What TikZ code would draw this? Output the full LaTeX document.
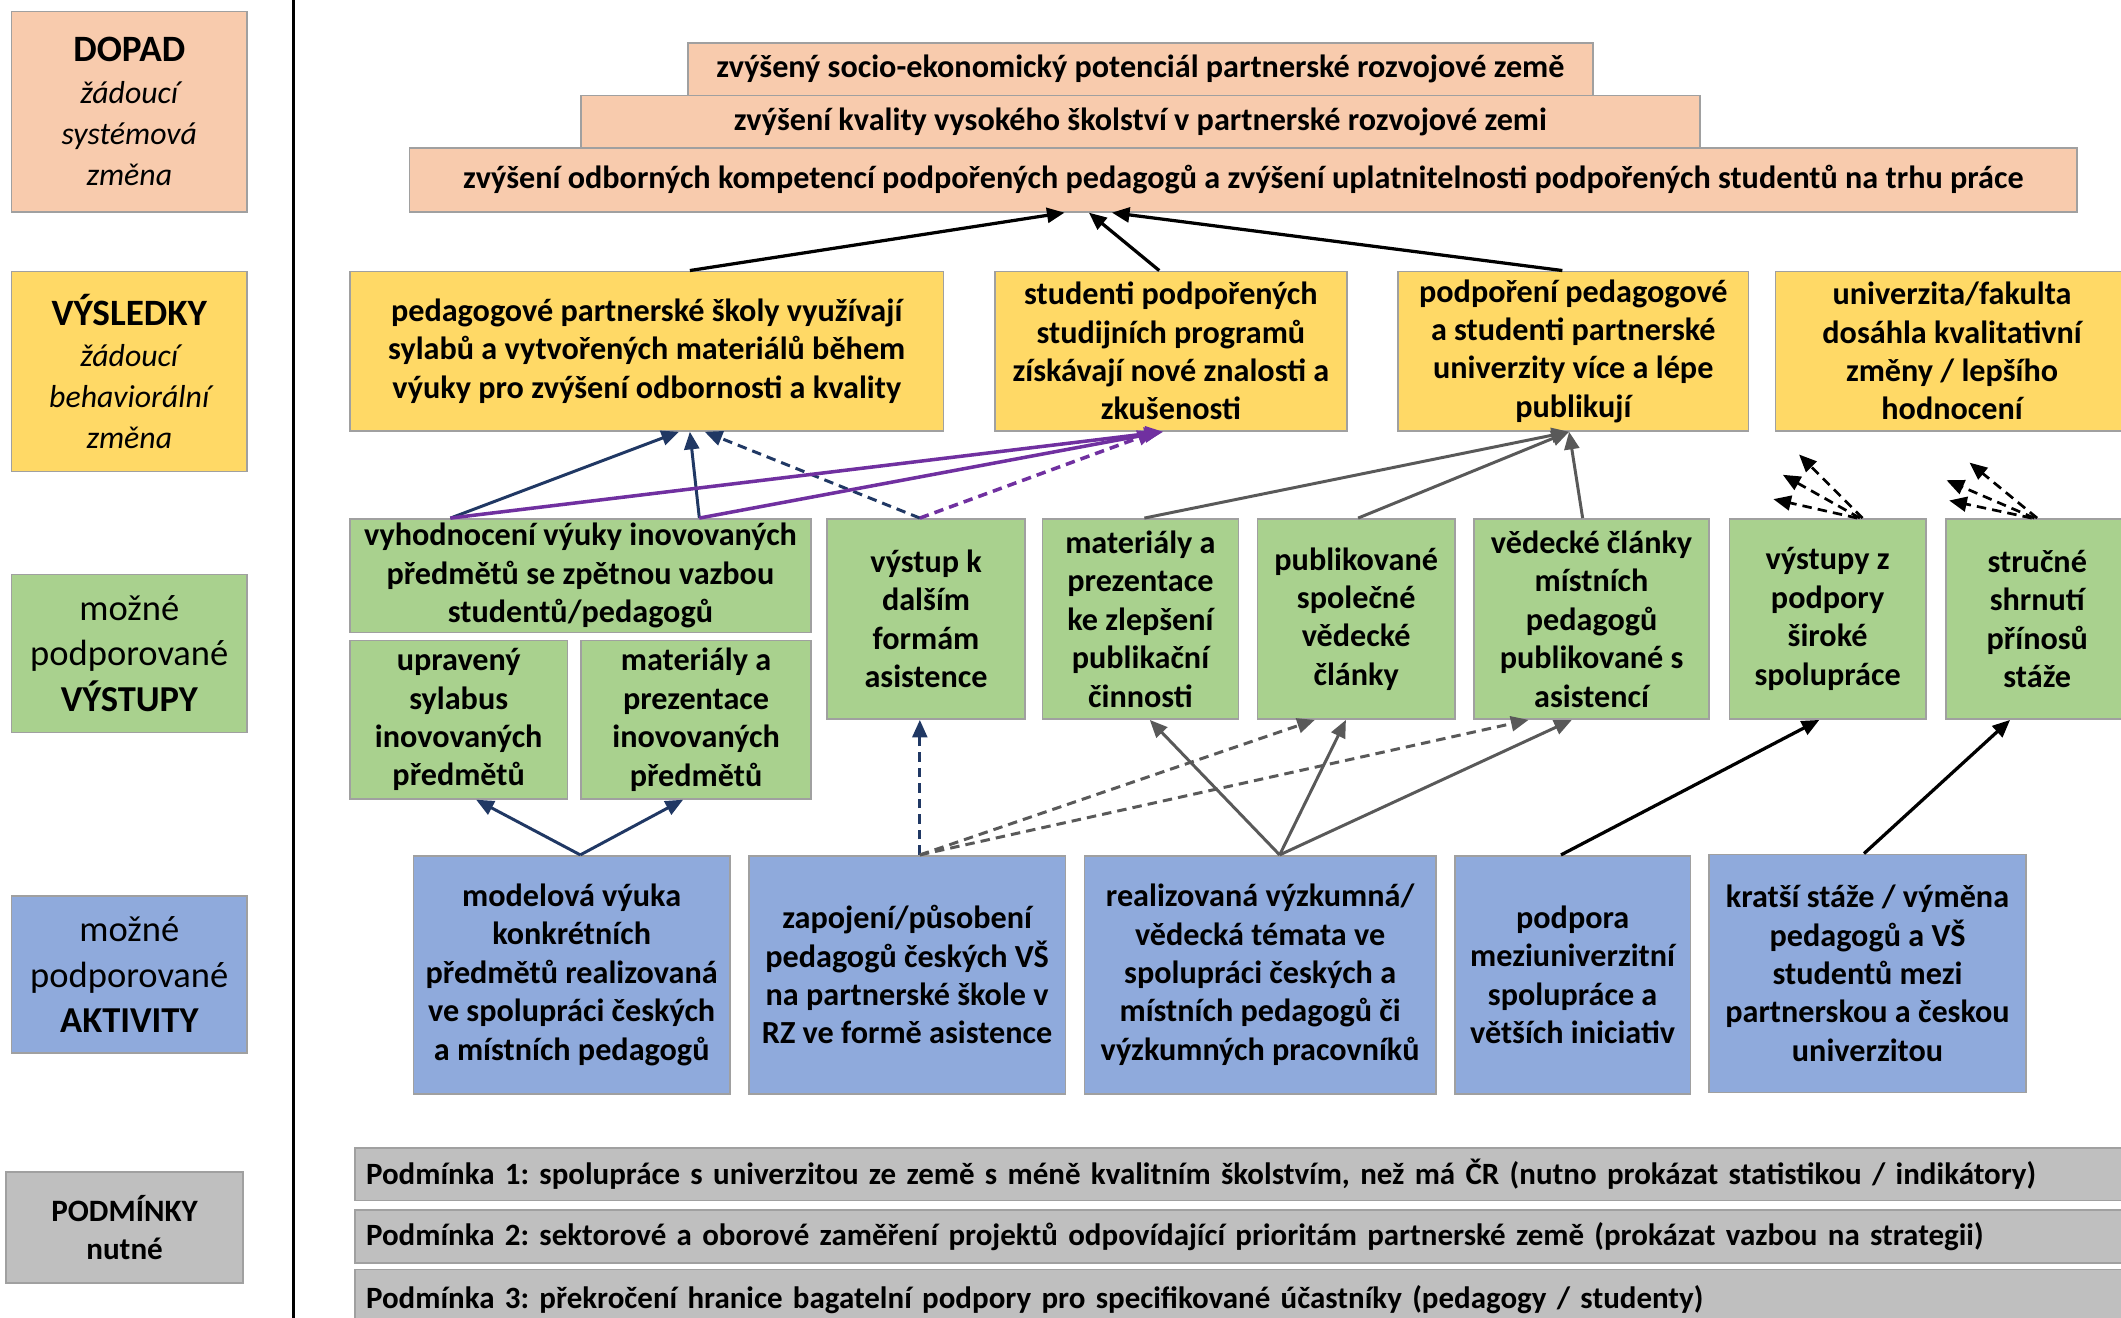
\documentclass[tikz,border=0pt]{standalone}
\usepackage{fontspec}
\setmainfont{Carlito}
\usetikzlibrary{arrows.meta,calc}
\frenchspacing

\definecolor{impact}{HTML}{F8CBAD}
\definecolor{result}{HTML}{FFD966}
\definecolor{output}{HTML}{A9D18E}
\definecolor{activity}{HTML}{8FAADC}
\definecolor{cond}{HTML}{BFBFBF}
\definecolor{frame}{HTML}{A0A0A0}
\definecolor{navy}{HTML}{203864}
\definecolor{violet}{HTML}{7030A0}
\definecolor{slate}{HTML}{595959}

\tikzset{
  box/.style={draw=frame, line width=1.2pt, inner sep=0pt, align=center,
    anchor=north west, font=\fontsize{23.8}{28.4}\selectfont\bfseries},
  lab/.style={box, font=\fontsize{23.5}{30.5}\selectfont},
  labbig/.style={box, font=\fontsize{27}{33.5}\selectfont},
  condbox/.style={box, align=left, text width=1320pt, inner xsep=8pt,
    minimum height=39pt, font=\fontsize{22.9}{28}\selectfont\bfseries},
  tipa/.style={-{Triangle[length=13pt,width=11pt]}},
  blk/.style={tipa, draw=black, line width=2.4pt},
  nv/.style={tipa, draw=navy, line width=2.2pt},
  pu/.style={tipa, draw=violet, line width=2.6pt},
  sl/.style={tipa, draw=slate, line width=2.2pt},
  dsh/.style={dash pattern=on 7pt off 4.5pt},
}

\begin{document}
\begin{tikzpicture}[x=1pt,y=-1pt]
\useasboundingbox (0,0) rectangle (1568,974);
\clip (0,0) rectangle (1568,974);
\fill[white] (0,0) rectangle (1568,974);

% level labels on the left
\node[lab, fill=impact, minimum width=174pt, minimum height=148pt] (ldopad) at (8,8)
  {{\fontsize{27.5}{30.5}\selectfont\bfseries DOPAD}\\{\itshape žádoucí}\\{\itshape systémová}\\{\itshape změna}};
\node[lab, fill=result, minimum width=174pt, minimum height=148pt] (lvysl) at (8,200)
  {{\fontsize{27.5}{30.5}\selectfont\bfseries VÝSLEDKY}\\{\itshape žádoucí}\\{\itshape behaviorální}\\{\itshape změna}};
\node[labbig, fill=output, minimum width=174pt, minimum height=117pt] (lvyst) at (8,424)
  {možné\\podporované\\{\bfseries VÝSTUPY}};
\node[labbig, fill=activity, minimum width=174pt, minimum height=116pt] (lakt) at (8,662)
  {možné\\podporované\\{\bfseries AKTIVITY}};
\node[box, fill=cond, minimum width=175pt, minimum height=82pt,
  font=\fontsize{23}{28}\selectfont\bfseries] (lpodm) at (4,866)
  {PODMÍNKY\\nutné};

% separator
\draw[line width=2.6pt] (217,0) -- (217,974);

% impact
\node[box, fill=impact, minimum width=669pt, minimum height=39pt] (b1) at (508,31)
  {zvýšený socio-ekonomický potenciál partnerské rozvojové země};
\node[box, fill=impact, minimum width=827pt, minimum height=39pt] (b2) at (429,70)
  {zvýšení kvality vysokého školství v partnerské rozvojové zemi};
\node[box, fill=impact, minimum width=1233pt, minimum height=47pt] (b3) at (302,109)
  {zvýšení odborných kompetencí podpořených pedagogů a zvýšení uplatnitelnosti podpořených studentů na trhu práce};

% results
\node[box, fill=result, minimum width=439pt, minimum height=118pt] (r1) at (258,200)
  {pedagogové partnerské školy využívají\\sylabů a vytvořených materiálů během\\výuky pro zvýšení odbornosti a kvality};
\node[box, fill=result, minimum width=260pt, minimum height=118pt] (r2) at (735,200)
  {studenti podpořených\\studijních programů\\získávají nové znalosti a\\zkušenosti};
\node[box, fill=result, minimum width=259pt, minimum height=118pt] (r3) at (1033,200)
  {podpoření pedagogové\\a studenti partnerské\\univerzity více a lépe\\publikují};
\node[box, fill=result, minimum width=261pt, minimum height=118pt] (r4) at (1312,200)
  {univerzita/fakulta\\dosáhla kvalitativní\\změny / lepšího\\hodnocení};

% outputs
\node[box, fill=output, minimum width=341pt, minimum height=84pt] (o1) at (258,383)
  {vyhodnocení výuky inovovaných\\předmětů se zpětnou vazbou\\studentů/pedagogů};
\node[box, fill=output, minimum width=161pt, minimum height=117pt] (o2) at (258,473)
  {upravený\\sylabus\\inovovaných\\předmětů};
\node[box, fill=output, minimum width=170pt, minimum height=117pt] (o3) at (429,473)
  {materiály a\\prezentace\\inovovaných\\předmětů};
\node[box, fill=output, minimum width=146pt, minimum height=148pt] (o4) at (611,383)
  {výstup k\\dalším\\formám\\asistence};
\node[box, fill=output, minimum width=145pt, minimum height=148pt] (o5) at (770,383)
  {materiály a\\prezentace\\ke zlepšení\\publikační\\činnosti};
\node[box, fill=output, minimum width=146pt, minimum height=148pt] (o6) at (929,383)
  {publikované\\společné\\vědecké\\články};
\node[box, fill=output, minimum width=174pt, minimum height=148pt] (o7) at (1089,383)
  {vědecké články\\místních\\pedagogů\\publikované s\\asistencí};
\node[box, fill=output, minimum width=145pt, minimum height=148pt] (o8) at (1278,383)
  {výstupy z\\podpory\\široké\\spolupráce};
\node[box, fill=output, minimum width=135pt, minimum height=148pt] (o9) at (1438,383)
  {stručné\\shrnutí\\přínosů\\stáže};

% activities
\node[box, fill=activity, minimum width=234pt, minimum height=176pt] (a1) at (305,632)
  {modelová výuka\\konkrétních\\předmětů realizovaná\\ve spolupráci českých\\a místních pedagogů};
\node[box, fill=activity, minimum width=234pt, minimum height=176pt] (a2) at (553,632)
  {zapojení/působení\\pedagogů českých VŠ\\na partnerské škole v\\RZ ve formě asistence};
\node[box, fill=activity, minimum width=260pt, minimum height=176pt] (a3) at (801,632)
  {realizovaná výzkumná/\\vědecká témata ve\\spolupráci českých a\\místních pedagogů či\\výzkumných pracovníků};
\node[box, fill=activity, minimum width=174pt, minimum height=176pt] (a4) at (1075,632)
  {podpora\\meziuniverzitní\\spolupráce a\\větších iniciativ};
\node[box, fill=activity, minimum width=234pt, minimum height=176pt] (a5) at (1263,631)
  {kratší stáže / výměna\\pedagogů a VŠ\\studentů mezi\\partnerskou a českou\\univerzitou};

% conditions
\node[condbox, fill=cond] (c1) at (262,848)
  {Podmínka 1: spolupráce s univerzitou ze země s méně kvalitním školstvím, než má ČR (nutno prokázat statistikou / indikátory)};
\node[condbox, fill=cond] (c2) at (262,894)
  {Podmínka 2: sektorové a oborové zaměření projektů odpovídající prioritám partnerské země (prokázat vazbou na strategii)};
\node[condbox, fill=cond, minimum height=44pt] (c3) at (262,938)
  {Podmínka 3: překročení hranice bagatelní podpory pro specifikované účastníky (pedagogy / studenty)};

% results -> impact
\draw[blk] ([xshift=252pt]r1.north west) -- ([xshift=485pt]b3.south west);
\draw[blk] ([xshift=122pt]r2.north west) -- ([xshift=503pt]b3.south west);
\draw[blk] ([xshift=122pt]r3.north west) -- ([xshift=520pt]b3.south west);

% outputs -> results
\draw[nv] ([xshift=75pt]o1.north west) -- ([xshift=244pt]r1.south west);
\draw[nv] ([xshift=259pt]o1.north west) -- ([xshift=252pt]r1.south west);
\draw[nv, dsh] ([xshift=69pt]o4.north west) -- ([xshift=263pt]r1.south west);
\draw[pu] ([xshift=75pt]o1.north west) -- ([xshift=125pt]r2.south west);
\draw[pu] ([xshift=259pt]o1.north west) -- ([xshift=124pt]r2.south west);
\draw[pu, dsh] ([xshift=69pt]o4.north west) -- ([xshift=119pt]r2.south west);
\draw[sl] ([xshift=76pt]o5.north west) -- ([xshift=127pt]r3.south west);
\draw[sl] ([xshift=75pt]o6.north west) -- ([xshift=127pt]r3.south west);
\draw[sl] ([xshift=81pt]o7.north west) -- ([xshift=127pt]r3.south west);

% open-ended links above the last two outputs
\coordinate (f1) at (1330,336);
\coordinate (f2) at (1318,351);
\coordinate (f3) at (1311,369);
\coordinate (g1) at (1456,342);
\coordinate (g2) at (1439,355);
\coordinate (g3) at (1441,370);
\draw[tipa, line width=2pt, dsh] ([xshift=99pt]o8.north west) -- (f1);
\draw[tipa, line width=2pt, dsh] ([xshift=97pt]o8.north west) -- (f2);
\draw[tipa, line width=2pt, dsh] ([xshift=95pt]o8.north west) -- (f3);
\draw[tipa, line width=2pt, dsh] ([xshift=68pt]o9.north west) -- (g1);
\draw[tipa, line width=2pt, dsh] ([xshift=66pt]o9.north west) -- (g2);
\draw[tipa, line width=2pt, dsh] ([xshift=64pt]o9.north west) -- (g3);

% activities -> outputs
\draw[nv] ([xshift=124pt]a1.north west) -- ([xshift=94pt]o2.south west);
\draw[nv] ([xshift=124pt]a1.north west) -- ([xshift=76pt]o3.south west);
\draw[nv, dsh] ([xshift=127pt]a2.north west) -- ([xshift=69pt]o4.south west);
\draw[sl, dsh] ([xshift=127pt]a2.north west) -- ([xshift=43pt]o6.south west);
\draw[sl, dsh] ([xshift=127pt]a2.north west) -- ([xshift=41pt]o7.south west);
\draw[sl] ([xshift=145pt]a3.north west) -- ([xshift=80pt]o5.south west);
\draw[sl] ([xshift=145pt]a3.north west) -- ([xshift=66pt]o6.south west);
\draw[sl] ([xshift=145pt]a3.north west) -- ([xshift=73pt]o7.south west);
\draw[blk] ([xshift=79pt]a4.north west) -- ([xshift=67pt]o8.south west);
\draw[blk] ([xshift=115pt]a5.north west) -- ([xshift=48pt]o9.south west);
\end{tikzpicture}
\end{document}
